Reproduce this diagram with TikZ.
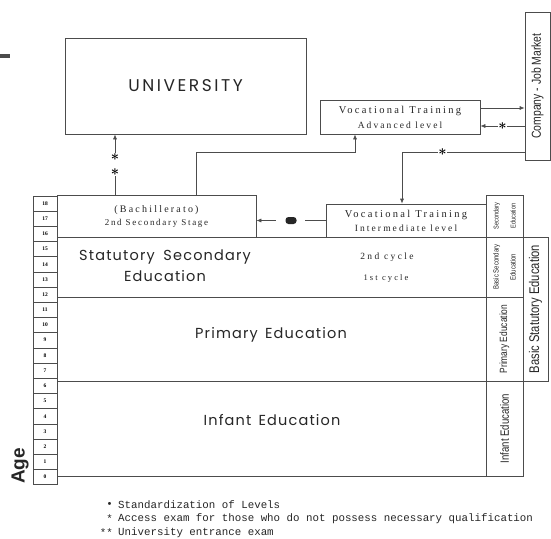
\documentclass[tikz,border=0pt]{standalone}
\usepackage{fontspec}
\setmainfont{Liberation Serif}
\newfontfamily\geosans{Poppins}[LetterSpace=8]
\newfontfamily\narrowsans{Liberation Sans}[FakeStretch=0.8]
\newfontfamily\heavysans{Liberation Sans}
\newfontfamily\spacedserif{Liberation Serif}[LetterSpace=22]
\newfontfamily\legendfont{Liberation Mono}
\usetikzlibrary{arrows.meta}

\begin{document}
\begin{tikzpicture}[x=1pt,y=-1pt,>={Latex[length=5pt,width=4pt]}]

\tikzset{
box/.style={rectangle,draw=black!70,fill=white,line width=0.7pt,inner sep=0pt},
agecell/.style={rectangle,draw=black!70,line width=0.6pt,minimum width=24pt,minimum height=15.2pt,inner sep=0pt,font=\fontsize{5.5}{6}\selectfont\bfseries},
link/.style={draw=black!70,line width=0.7pt},
starmark/.style={fill=white,inner sep=0.3pt,align=center,font=\fontsize{14}{15}\selectfont\boldmath},
dotmark/.style={rectangle,rounded corners=3pt,fill=black!85,minimum width=11pt,minimum height=7pt,inner sep=0pt},
vtext/.style={align=center,text=black!85,font=\spacedserif\fontsize{10.5}{15}\selectfont},
bigtext/.style={align=center,text=black!85,font=\geosans\fontsize{14.5}{21}\selectfont},
sidetext/.style={rotate=90,align=center,text=black!85,inner sep=0pt},
legend/.style={text=black!85,inner sep=0pt,font=\legendfont\fontsize{10.8}{12}\selectfont}
}

\fill[white] (0,0) rectangle (551,538);
\useasboundingbox (0,0) rectangle (551,538);
\fill[black!70] (0,54) rectangle (10,58);

\node[box,minimum width=241pt,minimum height=96pt] (univ) at (185.5,86) {};
\node[bigtext,font=\geosans\addfontfeatures{LetterSpace=15}\fontsize{17}{18}\selectfont] (univtext) at (185.5,86) {UNIVERSITY};

\node[box,minimum width=160pt,minimum height=34pt,vtext] (vtadv) at (400,117) {Vocational Training\\{\fontsize{9.5}{10}\selectfont Advanced level}};

\node[box,minimum width=25pt,minimum height=148pt] (company) at (537.5,86) {};
\node[sidetext,font=\narrowsans\fontsize{13}{14}\selectfont] (companytext) at (company.center) {Company - Job Market};

\node[box,minimum width=199pt,minimum height=42pt,vtext,font=\spacedserif\fontsize{10}{13}\selectfont] (bach) at (156.5,216) {(Bachillerato)\\{\addfontfeatures{LetterSpace=19}\fontsize{9}{10}\selectfont 2nd Secondary Stage}};
\node[box,minimum width=160pt,minimum height=33pt,vtext,font=\spacedserif\fontsize{10.5}{14}\selectfont] (vtint) at (406,220.5) {Vocational Training\\{\fontsize{9.5}{10}\selectfont Intermediate level}};

\node[box,minimum width=429pt,minimum height=60pt] (statsec) at (271.5,267) {};
\node[box,minimum width=429pt,minimum height=84pt] (primary) at (271.5,339) {};
\node[box,minimum width=429pt,minimum height=95pt] (infant) at (271.5,428.5) {};

\node[bigtext] (statsectext) at (165,266) {Statutory\hspace{0.6em}Secondary\\Education};
\node[vtext,font=\spacedserif\addfontfeatures{LetterSpace=25}\fontsize{9.5}{10}\selectfont] (cycletwo) at (387,257) {2nd cycle};
\node[vtext,font=\spacedserif\addfontfeatures{LetterSpace=25}\fontsize{8.5}{10}\selectfont] (cycleone) at (386,278) {1st cycle};
\node[bigtext] (primarytext) at (271,335) {Primary\hspace{0.5em}Education};
\node[bigtext] (infanttext) at (272,420) {Infant\hspace{0.5em}Education};

\node[box,minimum width=37pt,minimum height=42pt] (secedu) at (504.5,216) {};
\node[box,minimum width=37pt,minimum height=60pt] (basicsec) at (504.5,267) {};
\node[box,minimum width=37pt,minimum height=84pt] (primaryedu) at (504.5,339) {};
\node[box,minimum width=37pt,minimum height=95pt] (infantedu) at (504.5,428.5) {};
\node[box,minimum width=25pt,minimum height=144pt] (basicstat) at (535.5,309) {};

\node[sidetext,font=\narrowsans\fontsize{7}{17}\selectfont] (secedutext) at (secedu.center) {Secondary\\Education};
\node[sidetext,font=\narrowsans\fontsize{7.5}{17}\selectfont] (basicsectext) at (basicsec.center) {Basic Secondary\\Education};
\node[sidetext,font=\narrowsans\fontsize{10.5}{12}\selectfont] (primaryedutext) at (primaryedu.center) {Primary Education};
\node[sidetext,font=\narrowsans\fontsize{12}{13}\selectfont] (infantedutext) at (infantedu.center) {Infant Education};
\node[sidetext,font=\narrowsans\fontsize{14}{15}\selectfont] (basicstattext) at (basicstat.center) {Basic Statutory Education};

\node[agecell] (age0) at (45,477) {0};
\node[agecell] (age1) at (45,461.8) {1};
\node[agecell] (age2) at (45,446.6) {2};
\node[agecell] (age3) at (45,431.4) {3};
\node[agecell] (age4) at (45,416.2) {4};
\node[agecell] (age5) at (45,401) {5};
\node[agecell] (age6) at (45,385.8) {6};
\node[agecell] (age7) at (45,370.6) {7};
\node[agecell] (age8) at (45,355.4) {8};
\node[agecell] (age9) at (45,340.2) {9};
\node[agecell] (age10) at (45,325) {10};
\node[agecell] (age11) at (45,309.8) {11};
\node[agecell] (age12) at (45,294.6) {12};
\node[agecell] (age13) at (45,279.4) {13};
\node[agecell] (age14) at (45,264.2) {14};
\node[agecell] (age15) at (45,249) {15};
\node[agecell] (age16) at (45,233.8) {16};
\node[agecell] (age17) at (45,218.6) {17};
\node[agecell] (age18) at (45,203.4) {18};

\node[rotate=90,text=black!85,font=\heavysans\bfseries\fontsize{19}{20}\selectfont] (agetext) at (20,466) {Age};

\coordinate (uniexam) at (115,0);
\coordinate (bachturn) at (196,152);
\coordinate (advturn) at (355,152);
\coordinate (examturn) at (402,152);
\coordinate (outrow) at (0,108);
\coordinate (backrow) at (0,126);

\draw[link,->] (bach.north -| uniexam) -- node[starmark]{$\ast$\\$\ast$} (univ.south -| uniexam);
\draw[link,->] (bach.north -| bachturn) -- (bachturn) -- (advturn) -- (vtadv.south -| advturn);
\draw[link,->] (vtadv.east |- outrow) -- (company.west |- outrow);
\draw[link,->] (company.west |- backrow) -- node[starmark]{$\ast$} (vtadv.east |- backrow);
\draw[link,->] (company.west |- examturn) -- node[starmark,pos=0.67]{$\ast$} (examturn) -- (vtint.north -| examturn);
\draw[link,->,dash pattern=on 21pt off 29pt on 30pt] (vtint.west) -- node[dotmark]{} (vtint.west -| bach.east);

\node[legend,anchor=east] (legdot) at (113,505) {\textbullet};
\node[legend,anchor=west] (legdottext) at (118,505) {Standardization of Levels};
\node[legend,anchor=east] (legstar) at (113,519) {*};
\node[legend,anchor=west] (legstartext) at (118,519) {Access exam for those who do not possess necessary qualification};
\node[legend,anchor=east] (legtwostar) at (113,533) {**};
\node[legend,anchor=west] (legtwostartext) at (118,533) {University entrance exam};

\end{tikzpicture}
\end{document}
